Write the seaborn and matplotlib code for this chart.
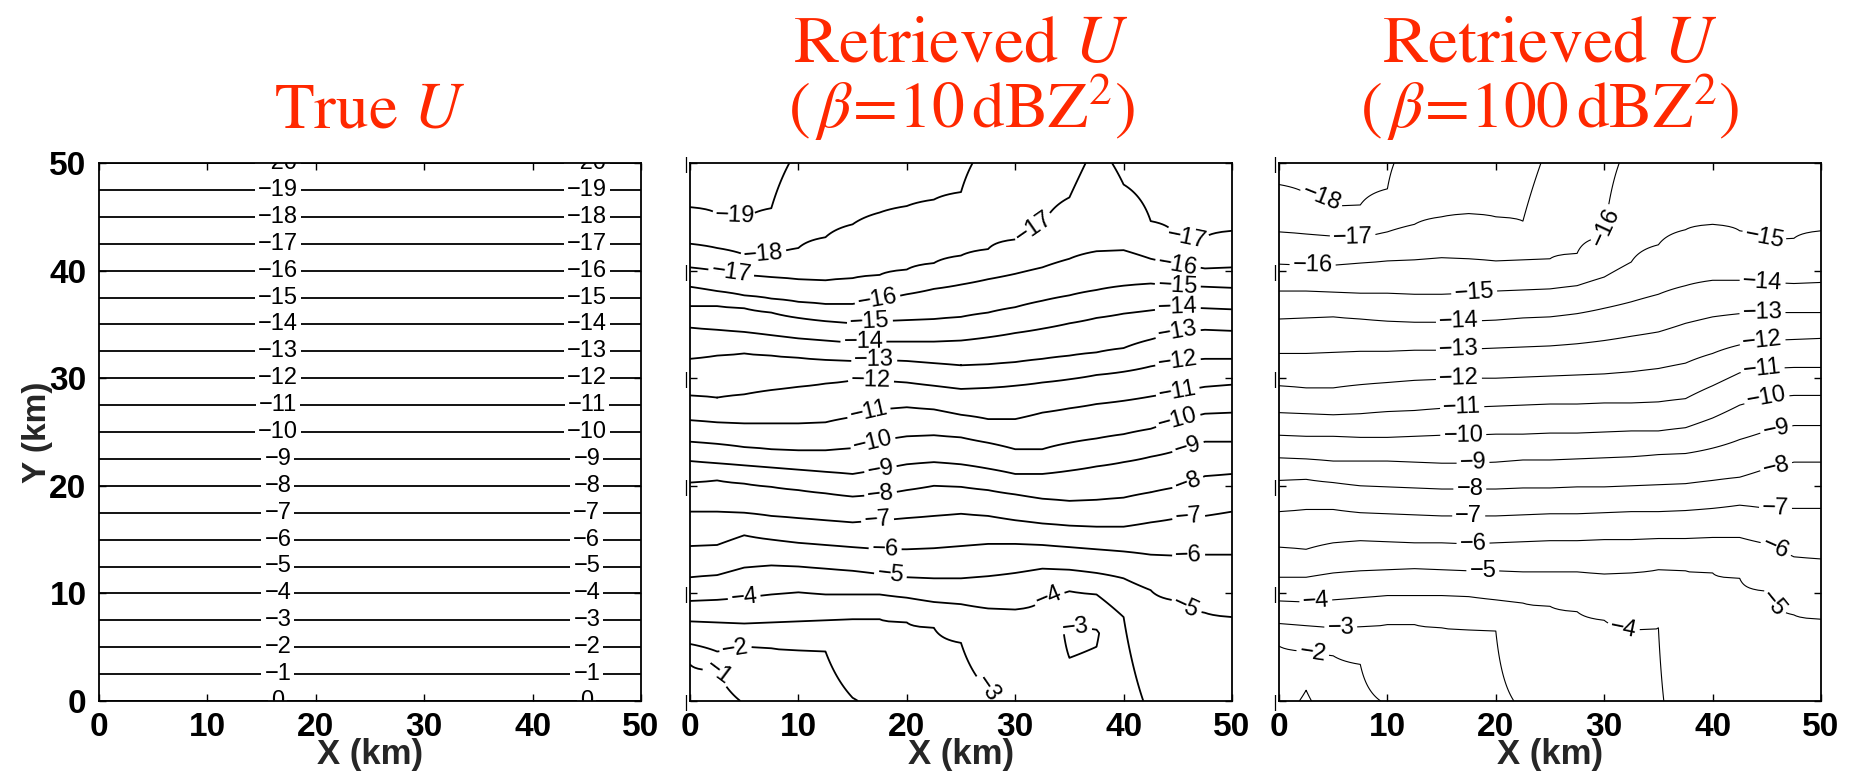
import numpy as np
import matplotlib
matplotlib.use("Agg")
import matplotlib.pyplot as plt
import seaborn as sns

nan = np.nan

# ---------------- data ----------------
TICKS = [0, 10, 20, 30, 40, 50]
TICK_LABELS = ["0", "10", "20", "30", "40", "50"]

# Panel 1: true U, horizontal isolines every 2.5 km
TRUE_Y = [-2.5, 0, 2.5, 5, 7.5, 10, 12.5, 15, 17.5, 20, 22.5, 25, 27.5, 30,
          32.5, 35, 37.5, 40, 42.5, 45, 47.5, 50, 52.5]
TRUE_U = [1, 0, -1, -2, -3, -4, -5, -6, -7, -8, -9, -10, -11, -12,
          -13, -14, -15, -16, -17, -18, -19, -20, -21]
TRUE_LEVELS = list(range(-20, 1))

# Stations (km) where isoline heights were read for panels 2 and 3
X_ST = [0, 2.5, 5, 7.5, 10, 12.5, 15, 17.5, 20, 22.5, 25, 27.5, 30, 32.5,
        35, 37.5, 40, 42.5, 45, 47.5, 50]

# Panel 2 (beta = 10): height (km) of each isoline at each station
P2_LEVELS = [-19, -18, -17, -16, -15, -14, -13, -12, -11, -10,
             -9, -8, -7, -6, -5, -4, -3, -2, -1]
P2_H = [
    [45.9, 45.3, 44.7, 45.8] + [nan] * 17,
    [42.5, 42.1, 41.5, 41.5, 42.1, 43.1, 44.3, 45.4, 46.0, 46.6, 47.3] + [nan] * 10,
    [40.3, 40.0, 39.6, 39.4, 39.2, 39.1, 39.3, 39.6, 40.1, 40.7, 41.4, 42.0, 42.9, 44.2, 46.8, nan, 48.0, 44.6, 43.0, 43.1, 43.7],
    [38.5, 38.1, 37.7, 37.4, 37.1, 36.9, 36.9, 37.3, 37.8, 38.3, 38.7, 39.2, 39.7, 40.3, 41.1, 41.8, 41.9, 41.1, 40.5, 40.2, 40.3],
    [36.7, 36.7, 36.5, 36.1, 35.6, 35.3, 35.1, 35.3, 35.4, 35.5, 35.7, 36.1, 36.6, 37.2, 37.7, 38.2, 38.6, 38.8, 38.6, 38.5, 38.4],
    [34.7, 34.5, 34.3, 34.0, 33.7, 33.5, 33.3, 33.4, 33.4, 33.4, 33.5, 33.8, 34.2, 34.6, 35.1, 35.6, 36.0, 36.3, 36.6, 36.5, 36.4],
    [31.8, 32.1, 32.3, 32.1, 31.9, 31.7, 31.6, 31.7, 31.6, 31.4, 31.2, 31.3, 31.5, 31.8, 32.1, 32.4, 32.8, 33.6, 34.3, 34.5, 34.4],
    [28.4, 28.2, 28.5, 28.9, 29.2, 29.5, 29.8, 29.8, 29.6, 29.3, 29.0, 29.1, 29.3, 29.6, 29.9, 30.3, 30.6, 31.1, 31.6, 31.8, 31.8],
    [26.1, 25.9, 25.8, 25.8, 25.8, 25.9, 26.4, 27.1, 27.3, 27.1, 26.6, 26.2, 26.2, 26.8, 27.2, 27.6, 27.9, 28.3, 28.7, 29.2, 29.4],
    [24.1, 23.9, 23.6, 23.4, 23.3, 23.3, 23.5, 24.2, 24.6, 24.7, 24.5, 24.0, 23.4, 23.4, 24.0, 24.4, 24.8, 25.3, 26.1, 26.7, 26.8],
    [22.3, 22.1, 21.9, 21.7, 21.5, 21.3, 21.1, 21.5, 22.0, 22.2, 22.0, 21.6, 21.1, 21.1, 21.4, 21.8, 22.2, 22.7, 23.3, 24.1, 24.1],
    [20.3, 20.5, 20.2, 19.9, 19.6, 19.3, 19.0, 19.2, 19.6, 20.0, 19.9, 19.6, 19.2, 18.8, 18.6, 18.7, 18.9, 19.4, 19.9, 20.9, 21.1],
    [17.6, 17.6, 17.5, 17.2, 17.0, 16.8, 16.6, 16.8, 17.0, 17.2, 17.4, 17.2, 16.8, 16.5, 16.3, 16.2, 16.2, 16.6, 17.0, 17.2, 17.6],
    [14.4, 14.5, 15.4, 15.0, 14.7, 14.5, 14.3, 14.1, 14.1, 14.2, 14.4, 14.6, 14.6, 14.5, 14.3, 14.1, 13.9, 13.6, 13.5, 13.6, 13.6],
    [11.5, 11.7, 12.4, 12.6, 12.5, 12.3, 12.1, 11.8, 11.5, 11.4, 11.4, 11.6, 11.9, 12.3, 12.2, 11.9, 11.4, 10.3, 9.3, 8.2, 7.8],
    [9.3, 9.4, 9.6, 9.9, 10.1, 9.9, 9.9, 9.9, 9.6, 9.2, 9.0, 8.6, 8.5, 9.5, 10.2, 9.9, 7.8, nan, nan, nan, nan],
    [7.4, 7.3, 7.2, 7.3, 7.4, 7.5, 7.6, 7.6, 7.3, 6.8, 5.4, 1.0] + [nan] * 9,
    [5.3, 4.6, 5.1, 4.9, 4.7, 4.6, 0.3] + [nan] * 14,
    [3.4, 2.8] + [nan] * 19,
]
P2_U_BOTTOM = [-0.6, -0.7, -1.05, -1.3, -1.4, -1.6, -1.95, -2.2, -2.3, -2.4, -2.6,
               -2.95, -3.2, -3.3, -3.35, -3.4, -3.6, -4.15, -4.3, -4.4, -4.5]
P2_U_TOP = [-19.5, -19.5, -19.5, -19.3, -18.85, -18.7, -18.6, -18.5, -18.4, -18.3, -18.15,
            -17.8, -17.6, -17.5, -17.3, -16.8, -17.15, -17.4, -17.6, -17.7, -17.7]
# small closed -3 maximum near (36, 6)
P2_PEAK_X = [35.0, 37.5]
P2_PEAK_Y = [6.3, 6.3]
P2_PEAK_U = [-2.8, -2.9]

# Panel 3 (beta = 100)
P3_LEVELS = [-18, -17, -16, -15, -14, -13, -12, -11, -10,
             -9, -8, -7, -6, -5, -4, -3, -2, -1]
P3_H = [
    [48.0, 47.2, 46.0, 46.1, 47.6] + [nan] * 16,
    [43.6, 43.4, 43.2, 43.0, 43.6, 44.3, 45.0, 45.3, 45.0, 44.6] + [nan] * 11,
    [40.6, 40.5, 40.5, 40.7, 40.9, 41.0, 41.2, 41.1, 40.9, 41.0, 41.1, 41.6, 43.2] + [nan] * 8,
    [38.1, 38.1, 38.0, 37.9, 37.9, 37.8, 37.8, 37.9, 38.1, 38.2, 38.3, 38.6, 39.4, 40.8, 42.4, 43.8, 44.3, 43.7, 42.8, 43.0, 43.7],
    [35.5, 35.6, 35.7, 35.5, 35.3, 35.2, 35.2, 35.3, 35.4, 35.6, 35.7, 36.0, 36.5, 37.1, 37.8, 38.6, 39.1, 39.1, 38.9, 38.8, 38.9],
    [32.3, 32.3, 32.4, 32.5, 32.5, 32.6, 32.6, 32.7, 32.8, 32.9, 33.0, 33.2, 33.5, 33.9, 34.3, 35.1, 35.7, 36.0, 36.1, 36.1, 36.1],
    [29.3, 29.1, 29.1, 29.4, 29.6, 29.8, 29.9, 30.0, 30.0, 30.1, 30.2, 30.3, 30.4, 30.6, 30.9, 31.4, 32.3, 33.1, 33.5, 33.6, 33.7],
    [26.8, 26.7, 26.6, 26.7, 26.9, 27.0, 27.2, 27.3, 27.4, 27.5, 27.6, 27.6, 27.7, 27.7, 27.8, 28.1, 29.3, 30.5, 30.9, 31.0, 31.0],
    [24.7, 24.6, 24.6, 24.5, 24.5, 24.6, 24.7, 24.7, 24.8, 24.8, 24.9, 24.9, 25.0, 25.1, 25.1, 25.4, 26.3, 27.5, 28.2, 28.4, 28.4],
    [22.6, 22.5, 22.3, 22.3, 22.3, 22.2, 22.1, 22.1, 22.2, 22.4, 22.4, 22.5, 22.6, 22.7, 22.9, 23.0, 23.5, 24.3, 25.1, 25.6, 25.6],
    [20.5, 20.6, 20.3, 20.0, 19.9, 19.8, 19.7, 19.7, 19.7, 19.8, 19.8, 19.9, 19.9, 20.0, 20.1, 20.2, 20.5, 20.8, 21.6, 22.2, 22.2],
    [17.6, 17.8, 17.8, 17.5, 17.4, 17.3, 17.2, 17.2, 17.2, 17.3, 17.4, 17.4, 17.5, 17.6, 17.6, 17.7, 17.9, 18.2, 17.9, 17.9, 17.9],
    [14.3, 14.1, 14.7, 14.9, 14.8, 14.7, 14.7, 14.6, 14.7, 14.8, 14.9, 14.9, 15.0, 15.0, 15.1, 15.1, 15.2, 15.2, 14.6, 13.4, 13.2],
    [11.5, 11.5, 11.9, 12.1, 12.2, 12.3, 12.2, 12.1, 12.1, 12.0, 12.0, 12.0, 11.8, 11.9, 12.2, 12.1, 11.9, 11.4, 10.2, 8.0, 7.6],
    [9.3, 9.2, 9.4, 9.6, 9.8, 9.8, 9.8, 9.7, 9.4, 9.1, 8.8, 8.3, 7.5, 6.6, 6.8] + [nan] * 6,
    [7.2, 7.0, 6.8, 6.9, 7.1, 7.1, 6.8, 6.6, 6.5] + [nan] * 12,
    [5.1, 4.6, 4.2, 3.4] + [nan] * 17,
    [nan, 1.0] + [nan] * 19,
]
P3_U_BOTTOM = [-1.3, -0.9, -1.4, -1.85, -2.05, -2.2, -2.3, -2.5, -2.8, -3.1, -3.2,
               -3.3, -3.4, -3.5, -3.9, -4.4, -4.45, -4.5, -4.55, -4.6, -4.6]
P3_U_TOP = [-18.3, -18.35, -18.4, -18.4, -18.1, -17.7, -17.6, -17.55, -17.5, -17.4, -16.8,
            -16.6, -16.25, -15.8, -15.6, -15.4, -15.35, -15.4, -15.5, -15.5, -15.5]

TITLES = [r"True $U$",
          "Retrieved $U$\n" + r"$(\,\beta\!=\!10\,\mathrm{dBZ}^{2})$",
          "Retrieved $U$\n" + r"$(\,\beta\!=\!100\,\mathrm{dBZ}^{2})$"]

# label placement hints (km)
P1_LABEL_X = [16.5, 45.0]
P2_LABEL_POS = [(4.2, 45.2), (6.8, 41.8), (3.8, 39.8), (31.8, 43.8), (45.8, 42.8),
                (17.3, 37.3), (45.0, 40.5), (16.6, 35.2), (45.0, 38.6),
                (16.0, 33.3), (45.0, 36.6), (17.0, 31.6), (45.0, 34.3),
                (16.7, 29.8), (45.0, 31.6), (16.5, 26.8), (45.0, 28.7),
                (16.9, 23.9), (45.0, 26.2), (17.6, 21.4), (46.0, 23.4),
                (17.6, 19.1), (46.0, 20.1), (17.3, 16.8), (46.0, 17.1),
                (18.0, 14.1), (46.0, 13.5), (18.5, 11.8), (46.0, 9.2),
                (5.0, 9.6), (33.0, 10.0), (27.8, 1.5), (35.6, 7.0),
                (4.2, 4.9), (2.5, 2.6)]
P3_LABEL_POS = [(3.7, 46.2), (6.8, 42.9), (3.1, 40.5), (30.5, 44.0),
                (18.0, 38.0), (44.6, 42.8), (16.6, 35.3), (44.6, 38.8),
                (16.6, 32.6), (44.6, 36.1), (16.6, 29.9), (44.6, 33.5),
                (16.9, 27.2), (44.6, 30.9), (17.0, 24.7), (45.0, 28.1),
                (17.9, 22.1), (45.9, 25.1), (17.6, 19.7), (45.9, 21.6),
                (17.5, 17.2), (45.8, 17.9), (17.9, 14.6), (45.9, 14.3),
                (18.8, 12.1), (46.4, 9.7), (3.4, 9.2), (31.7, 6.4),
                (5.7, 6.7), (3.1, 4.4)]


# ---------------- field construction ----------------
def build_field(levels, heights, u_bot, u_top, peak_x=(), peak_y=(), peak_u=()):
    y = np.linspace(0, 50, 501)
    z = np.empty((len(y), len(X_ST)))
    for j, xs in enumerate(X_ST):
        ys, vs = [0.0], [u_bot[j]]
        for lev, row in zip(levels, heights):
            h = row[j]
            if not np.isnan(h):
                ys.append(h)
                vs.append(lev)
        for px, py, pu in zip(peak_x, peak_y, peak_u):
            if px == xs:
                ys.append(py)
                vs.append(pu)
        ys.append(50.0)
        vs.append(u_top[j])
        ys, vs = np.array(ys), np.array(vs)
        o = np.argsort(ys, kind="stable")
        z[:, j] = np.interp(y, ys[o], vs[o])
    return np.array(X_ST, float), y, z


def fmt(v):
    v = int(round(v))
    return "0" if v == 0 else "\u2212" + str(abs(v))


# ---------------- style ----------------
sns.set_style("ticks")
plt.rcParams["font.family"] = ["Liberation Sans", "DejaVu Sans"]
plt.rcParams["mathtext.fontset"] = "stix"
plt.rcParams["contour.negative_linestyle"] = "solid"

fig = plt.figure(figsize=(18.6, 7.8), dpi=100)
W, H = 1860.0, 780.0
lefts = [99, 690, 1279]
axes = [fig.add_axes([l / W, 79 / H, 542 / W, 538 / H]) for l in lefts]

TITLE_RED = "#FF2800"
LABEL_FS = 17
AX_FS = 24

# Panel 1
ax = axes[0]
ty = np.array(TRUE_Y, float)
tu = np.array(TRUE_U, float)
Z1 = np.tile(tu[:, None], (1, 2))
cs1 = ax.contour([0, 50], ty, Z1, levels=TRUE_LEVELS, colors="black", linewidths=1.3)
pos1 = []
for lev in TRUE_LEVELS:
    yy = float(np.interp(lev, tu[::-1], ty[::-1]))
    for lx in P1_LABEL_X:
        pos1.append((lx, yy))
ax.clabel(cs1, manual=pos1, inline=True, inline_spacing=3, fontsize=LABEL_FS, fmt=fmt)

# Panel 2
x2, y2, Z2 = build_field(P2_LEVELS, P2_H, P2_U_BOTTOM, P2_U_TOP, P2_PEAK_X, P2_PEAK_Y, P2_PEAK_U)
cs2 = axes[1].contour(x2, y2, Z2, levels=P2_LEVELS, colors="black", linewidths=1.3)
axes[1].clabel(cs2, manual=P2_LABEL_POS, inline=True, inline_spacing=3, fontsize=LABEL_FS, fmt=fmt)

# Panel 3
x3, y3, Z3 = build_field(P3_LEVELS, P3_H, P3_U_BOTTOM, P3_U_TOP)
cs3 = axes[2].contour(x3, y3, Z3, levels=P3_LEVELS, colors="black", linewidths=0.8)
axes[2].clabel(cs3, manual=P3_LABEL_POS, inline=True, inline_spacing=3, fontsize=LABEL_FS, fmt=fmt)

for cs in (cs1, cs2, cs3):
    for t in cs.labelTexts:
        t.set_clip_on(True)

for i, ax in enumerate(axes):
    ax.set_xlim(0, 50)
    ax.set_ylim(0, 50)
    ax.set_xticks(TICKS)
    ax.set_yticks(TICKS)
    ax.set_xticklabels(TICK_LABELS, fontsize=AX_FS, fontweight="bold")
    if i == 0:
        ax.set_yticklabels(TICK_LABELS, fontsize=AX_FS, fontweight="bold")
        ax.set_ylabel("Y (km)", fontsize=AX_FS, fontweight="bold", labelpad=-3)
        ax.tick_params(axis="y", pad=9)
    else:
        ax.set_yticklabels(["|"] * len(TICKS), fontsize=11, color="#555555",
                           fontfamily="DejaVu Sans")
        ax.tick_params(axis="y", pad=1)
    ax.set_xlabel("X (km)", fontsize=AX_FS + 1, fontweight="bold", labelpad=-4)
    ax.tick_params(axis="x", pad=8)
    ax.tick_params(direction="in", length=5, width=1, top=True, right=True,
                   colors="black")
    for sp in ax.spines.values():
        sp.set_visible(True)
        sp.set_linewidth(1.3)
        sp.set_color("black")

# titles (two-line, centred above each panel)
for i, ax in enumerate(axes):
    cx = (lefts[i] + 271) / W
    lines = TITLES[i].split("\n")
    if len(lines) == 1:
        fig.text(cx, 1 - 128 / H, lines[0], ha="center", va="baseline",
                 fontsize=47, color=TITLE_RED, family="STIXGeneral")
    else:
        fig.text(cx, 1 - 62 / H, lines[0], ha="center", va="baseline",
                 fontsize=49, color=TITLE_RED, family="STIXGeneral")
        fig.text(cx, 1 - 128 / H, lines[1], ha="center", va="baseline",
                 fontsize=47, color=TITLE_RED, family="STIXGeneral")

fig.savefig("out.png", dpi=100)
